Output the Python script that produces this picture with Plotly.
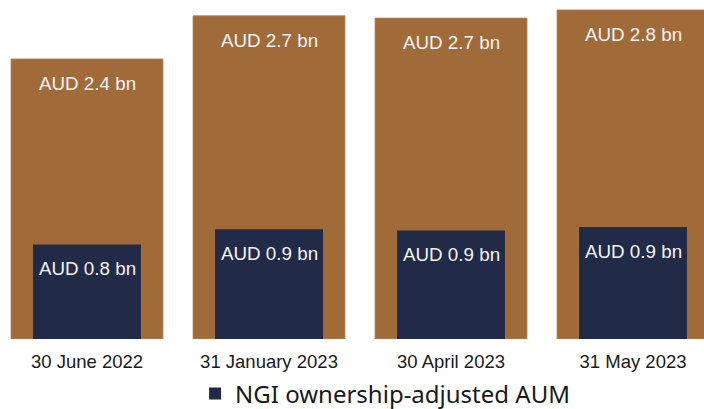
import plotly.graph_objects as go

categories = ["30 June 2022", "31 January 2023", "30 April 2023", "31 May 2023"]
total_aum = [2.40, 2.77, 2.75, 2.82]
total_labels = ["AUD 2.4 bn", "AUD 2.7 bn", "AUD 2.7 bn", "AUD 2.8 bn"]
adj_aum = [0.81, 0.94, 0.93, 0.96]
adj_labels = ["AUD 0.8 bn", "AUD 0.9 bn", "AUD 0.9 bn", "AUD 0.9 bn"]

BROWN = "#A16A39"
NAVY = "#212A47"
LABEL_FONT = dict(family="Liberation Sans, Arial", size=18.8, color="#F4F4F4")

fig = go.Figure()
fig.add_trace(go.Bar(x=categories, y=total_aum, width=0.835, marker_color=BROWN,
                     marker_line=dict(width=0.8, color="#B88455"),
                     showlegend=False, name="Total AUM"))
fig.add_trace(go.Bar(x=categories, y=adj_aum, width=0.593, marker_color=NAVY,
                     marker_line_width=0, name="NGI ownership-adjusted AUM"))

for cat, v, t in zip(categories, total_aum, total_labels):
    fig.add_annotation(x=cat, y=v, text=t, showarrow=False, yanchor="top", yshift=-12,
                       font=LABEL_FONT)
for cat, v, t in zip(categories, adj_aum, adj_labels):
    fig.add_annotation(x=cat, y=v, text=t, showarrow=False, yanchor="top", yshift=-12,
                       font=LABEL_FONT)

fig.update_layout(
    width=704, height=409,
    margin=dict(l=0, r=0, t=0, b=70, autoexpand=False),
    barmode="overlay",
    plot_bgcolor="white", paper_bgcolor="white",
    xaxis=dict(range=[-0.478, 3.39], showgrid=False, showline=False, zeroline=False,
               ticklabelstandoff=9, automargin=False,
               tickfont=dict(family="Liberation Sans, Arial", size=18.5, color="#1A1A1A")),
    yaxis=dict(range=[0, 2.905], visible=False, automargin=False),
    legend=dict(orientation="h", x=0.547, xanchor="center", y=-0.162, yanchor="middle",
                bgcolor="rgba(0,0,0,0)",
                font=dict(family="Noto Sans", size=24, color="#1A1A1A")),
)

fig.write_html("out.html", config={"displayModeBar": False},
               post_script="document.body.style.margin='0';document.body.style.overflow='hidden';")
